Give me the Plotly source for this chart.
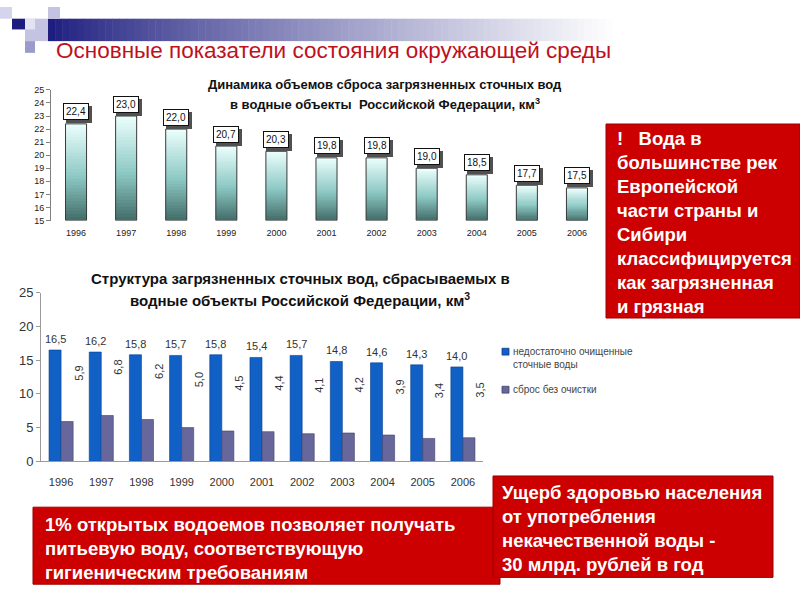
import plotly.graph_objects as go

# ---------------- data ----------------
years = ["1996", "1997", "1998", "1999", "2000", "2001", "2002", "2003", "2004", "2005", "2006"]
total_discharge = [22.4, 23.0, 22.0, 20.7, 20.3, 19.8, 19.8, 19.0, 18.5, 17.7, 17.5]
insufficiently_treated = [16.5, 16.2, 15.8, 15.7, 15.8, 15.4, 15.7, 14.8, 14.6, 14.3, 14.0]
untreated = [5.9, 6.8, 6.2, 5.0, 4.5, 4.4, 4.1, 4.2, 3.9, 3.4, 3.5]
top_y_ticks = list(range(15, 26))
bottom_y_ticks = [0, 5, 10, 15, 20, 25]

slide_title = "Основные показатели состояния окружающей среды"
top_title = ["Динамика объемов сброса загрязненных сточных вод",
             "в водные объекты\u00a0\u00a0Российской Федерации, км<sup>3</sup>"]
bottom_title = ["Структура загрязненных сточных вод, сбрасываемых в",
                "водные объекты Российской Федерации, км<sup>3</sup>"]
legend_names = ["недостаточно очищенные<br>сточные воды", "сброс без очистки"]
box_right = ["!\u00a0\u00a0\u00a0Вода в", "большинстве рек", "Европейской", "части страны и",
             "Сибири", "классифицируется", "как загрязненная", "и грязная"]
box_left = ["1% открытых водоемов позволяет получать", "питьевую воду, соответствующую",
            "гигиеническим требованиям"]
box_bottom = ["Ущерб здоровью населения", "от употребления", "некачественной воды -",
              "30 млрд. рублей в год"]

FONT = "Liberation Sans, Arial, sans-serif"
W, H = 800, 600


def px(x):
    return x / W


def py(y):
    return 1 - y / H


def fmt(v):
    return f"{v:.1f}".replace(".", ",")


def lerp(c1, c2, t):
    return tuple(int(round(a + (b - a) * t)) for a, b in zip(c1, c2))


def grad(t):
    stops = [(0.0, (66, 108, 104)), (0.45, (140, 200, 195)), (1.0, (236, 255, 253))]
    for (t0, c0), (t1, c1) in zip(stops[:-1], stops[1:]):
        if t <= t1:
            c = lerp(c0, c1, (t - t0) / (t1 - t0))
            return "rgb(%d,%d,%d)" % c
    return "rgb(%d,%d,%d)" % stops[-1][1]


fig = go.Figure()

# ---------------- top chart: gradient bars (stacked slices of each bar) ----------------
N = 30
base_val = top_y_ticks[0]
for i in range(N):
    over = 1.6 if i < N - 1 else 1.0
    fig.add_trace(go.Bar(
        x=years,
        y=[(v - base_val) / N * over for v in total_discharge],
        base=[base_val + (v - base_val) * i / N for v in total_discharge],
        width=0.42,
        marker=dict(color=grad((i + 0.5) / N), line=dict(width=0)),
        xaxis="x", yaxis="y", showlegend=False, hoverinfo="skip",
    ))
fig.add_trace(go.Bar(
    x=years,
    y=[v - base_val for v in total_discharge],
    base=[base_val] * len(years),
    width=0.42,
    marker=dict(color="rgba(0,0,0,0)", line=dict(color="#3a3a3a", width=1)),
    xaxis="x", yaxis="y", showlegend=False, hoverinfo="skip",
))

# ---------------- bottom chart: grouped bars ----------------
fig.add_trace(go.Bar(
    x=years, y=insufficiently_treated, width=0.3, offset=-0.3,
    marker=dict(color="#1060c6", line=dict(color="#0a3f8a", width=0.6)),
    xaxis="x2", yaxis="y2", name="недостаточно очищенные сточные воды", showlegend=False,
))
fig.add_trace(go.Bar(
    x=years, y=untreated, width=0.3, offset=0.0,
    marker=dict(color="#67679c", line=dict(color="#40406a", width=0.6)),
    xaxis="x2", yaxis="y2", name="сброс без очистки", showlegend=False,
))

annotations = []

# labels of top chart (box with shadow); x given as category index
for i, v in enumerate(total_discharge):
    annotations.append(dict(x=i, y=v, xref="x", yref="y", text=fmt(v), showarrow=False,
                            xshift=3, yshift=9, yanchor="middle",
                            font=dict(family=FONT, size=10, color="#505050"),
                            bgcolor="#505050", bordercolor="#505050", borderwidth=1, borderpad=2))
    annotations.append(dict(x=i, y=v, xref="x", yref="y", text=fmt(v), showarrow=False,
                            xshift=0, yshift=12, yanchor="middle",
                            font=dict(family=FONT, size=10, color="#111111"),
                            bgcolor="white", bordercolor="#111111", borderwidth=1, borderpad=2))

# labels of bottom chart
for i, v in enumerate(insufficiently_treated):
    annotations.append(dict(x=i, y=v, xref="x2", yref="y2", text=fmt(v), showarrow=False,
                            xshift=-6, yshift=11, yanchor="middle",
                            font=dict(family=FONT, size=11, color="#333333")))
for i, v in enumerate(untreated):
    annotations.append(dict(x=i, y=v, xref="x2", yref="y2", text=fmt(v), showarrow=False,
                            xshift=17, yshift=48, yanchor="middle", textangle=-90,
                            font=dict(family=FONT, size=11, color="#333333")))

# titles
annotations.append(dict(x=px(54), y=py(45), xref="paper", yref="paper", text=slide_title,
                        showarrow=False, xanchor="left", yanchor="middle",
                        font=dict(family=FONT, size=22.5, color="#c0101c")))
for i, t in enumerate(top_title):
    annotations.append(dict(x=px(385), y=py(79 + 21 * i), xref="paper", yref="paper", text="<b>%s</b>" % t,
                            showarrow=False, xanchor="center", yanchor="middle",
                            font=dict(family=FONT, size=13, color="#111111")))
for i, t in enumerate(bottom_title):
    annotations.append(dict(x=px(300), y=py(278 + 22 * i), xref="paper", yref="paper", text="<b>%s</b>" % t,
                            showarrow=False, xanchor="center", yanchor="middle",
                            font=dict(family=FONT, size=15, color="#111111")))

# manual legend
annotations.append(dict(x=px(511), y=py(346), xref="paper", yref="paper", text=legend_names[0],
                        showarrow=False, xanchor="left", yanchor="top", align="left",
                        font=dict(family=FONT, size=10, color="#444444")))
annotations.append(dict(x=px(511), y=py(392), xref="paper", yref="paper", text=legend_names[1],
                        showarrow=False, xanchor="left", yanchor="middle", align="left",
                        font=dict(family=FONT, size=10, color="#444444")))

# red boxes text
annotations.append(dict(x=px(615), y=py(122), xref="paper", yref="paper",
                        text="<br>".join("<b>%s</b>" % s for s in box_right),
                        showarrow=False, xanchor="left", yanchor="top", align="left",
                        font=dict(family=FONT, size=18.5, color="white")))
annotations.append(dict(x=px(43), y=py(518), xref="paper", yref="paper",
                        text="<br>".join("<b>%s</b>" % s for s in box_left),
                        showarrow=False, xanchor="left", yanchor="top", align="left",
                        font=dict(family=FONT, size=18.5, color="white")))
annotations.append(dict(x=px(500), y=py(485), xref="paper", yref="paper",
                        text="<br>".join("<b>%s</b>" % s for s in box_bottom),
                        showarrow=False, xanchor="left", yanchor="top", align="left",
                        font=dict(family=FONT, size=18.5, color="white")))

# ---------------- decorative shapes ----------------
shapes = []
# header gradient bar
NSEG = 80
x0, x1 = 48, 620
for i in range(NSEG):
    t = i / (NSEG - 1)
    c = lerp((30, 30, 128), (255, 255, 255), min(1, t ** 0.85))
    shapes.append(dict(type="rect", xref="paper", yref="paper",
                       x0=px(x0 + (x1 - x0) * i / NSEG), x1=px(x0 + (x1 - x0) * (i + 1) / NSEG + 0.5),
                       y0=py(35), y1=py(12), line=dict(width=0),
                       fillcolor="rgb(%d,%d,%d)" % c, layer="below"))
# squares
for (sx0, sy0, sx1, sy1, col) in [
    (0, 0, 12, 12, "#d4d4ec"),
    (48, 0, 60, 12, "#c4c4e2"),
    (25, 12, 48, 35, "#c4c4e2"),
    (25, 12, 35, 23, "#e2e2f2"),
    (12, 12, 25, 23, "#1c1c7e"),
    (25, 35, 35, 47, "#9a9acc"),
]:
    shapes.append(dict(type="rect", xref="paper", yref="paper", x0=px(sx0), x1=px(sx1),
                       y0=py(sy1), y1=py(sy0), line=dict(width=0), fillcolor=col, layer="below"))

# red boxes
for (bx0, by0, bx1, by1) in [(606, 120, 800, 319), (33, 513, 500, 592), (493, 481, 773, 585)]:
    shapes.append(dict(type="rect", xref="paper", yref="paper", x0=px(bx0), x1=px(bx1),
                       y0=py(by1), y1=py(by0), line=dict(color="#9a0000", width=1),
                       fillcolor="#cc0000", layer="above"))

# legend squares
shapes.append(dict(type="rect", xref="paper", yref="paper", x0=px(502), x1=px(509),
                   y0=py(357), y1=py(350), line=dict(color="#0a3f8a", width=0.8), fillcolor="#1060c6"))
shapes.append(dict(type="rect", xref="paper", yref="paper", x0=px(502), x1=px(509),
                   y0=py(396), y1=py(389), line=dict(color="#40406a", width=0.8), fillcolor="#67679c"))

fig.update_layout(
    width=W, height=H, margin=dict(l=0, r=0, t=0, b=0), autosize=False,
    paper_bgcolor="white", plot_bgcolor="rgba(0,0,0,0)",
    barmode="overlay", showlegend=False,
    font=dict(family=FONT, color="#333333"),
    xaxis=dict(domain=[px(51), px(602)], type="category", range=[-0.5, 10.5],
               showline=False, ticks="", showgrid=False, zeroline=False, ticklabelstandoff=5,
               tickfont=dict(family=FONT, size=9, color="#222222"), anchor="y"),
    yaxis=dict(domain=[py(219), py(85)], range=[15, 25], tickvals=top_y_ticks,
               showline=True, linecolor="#808080", linewidth=1, ticks="outside", ticklen=4,
               tickcolor="#808080", showgrid=False, zeroline=False,
               tickfont=dict(family=FONT, size=9, color="#222222"), anchor="x"),
    xaxis2=dict(domain=[px(41), px(483)], type="category", range=[-0.5, 10.5],
                showline=True, linecolor="#9a9a9a", ticks="", showgrid=False, zeroline=False,
                ticklabelstandoff=10,
                tickfont=dict(family=FONT, size=11, color="#333333"), anchor="y2"),
    yaxis2=dict(domain=[py(466), py(293)], range=[0, 25], tickvals=bottom_y_ticks,
                showline=True, linecolor="#9a9a9a", linewidth=1, ticks="outside", ticklen=4,
                tickcolor="#9a9a9a", showgrid=False, zeroline=False,
                tickfont=dict(family=FONT, size=13, color="#333333"), anchor="x2"),
    annotations=annotations, shapes=shapes,
)

fig.write_html("out.html")
